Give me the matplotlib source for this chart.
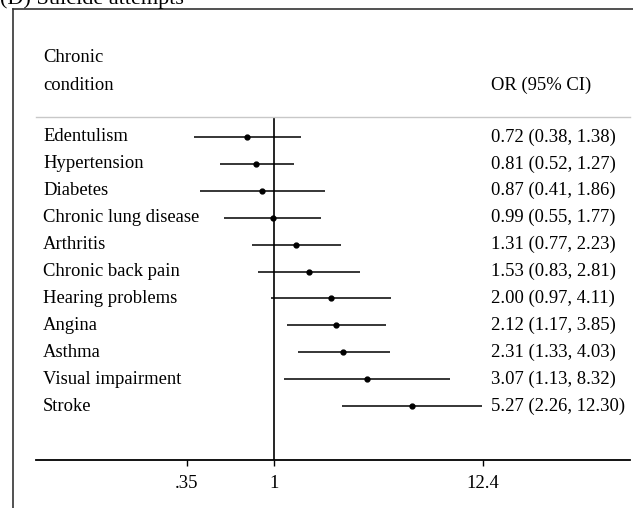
import matplotlib
matplotlib.use("Agg")
import matplotlib.pyplot as plt
from matplotlib.lines import Line2D
from matplotlib.transforms import blended_transform_factory

conditions = ["Edentulism", "Hypertension", "Diabetes", "Chronic lung disease",
              "Arthritis", "Chronic back pain", "Hearing problems", "Angina",
              "Asthma", "Visual impairment", "Stroke"]
odds = [0.72, 0.81, 0.87, 0.99, 1.31, 1.53, 2.00, 2.12, 2.31, 3.07, 5.27]
ci_low = [0.38, 0.52, 0.41, 0.55, 0.77, 0.83, 0.97, 1.17, 1.33, 1.13, 2.26]
ci_high = [1.38, 1.27, 1.86, 1.77, 2.23, 2.81, 4.11, 3.85, 4.03, 8.32, 12.30]
tick_vals = [0.35, 1, 12.4]
tick_labels = [".35", "1", "12.4"]

W, H = 633, 508
plt.rcParams["font.family"] = ["Liberation Serif", "DejaVu Serif"]
FS = 13.4

fig = plt.figure(figsize=(W / 100, H / 100), dpi=100)
fig.patch.set_facecolor("white")

# axes: left 36px .. right 630px, top 117px .. bottom 460px
ax = fig.add_axes([36 / W, (H - 460) / H, (630 - 36) / W, (460 - 117) / H])
ax.set_xscale("log")
ax.set_xlim(0.0569, 72.9)
ax.set_ylim(12.0, -0.743)
ax.minorticks_off()
ax.set_xticks(tick_vals)
ax.set_xticklabels(tick_labels, fontsize=FS)
ax.tick_params(axis="x", direction="out", length=4, width=1, pad=7, color="black")
ax.set_yticks([])
for s in ("left", "right"):
    ax.spines[s].set_visible(False)
ax.spines["bottom"].set_linewidth(1.3)
ax.spines["top"].set_color("#c8c8c8")
ax.spines["top"].set_linewidth(1.0)
ax.patch.set_alpha(0)

ax.axvline(1, color="black", lw=1.2, zorder=2)

rows = list(range(len(conditions)))
ax.hlines(rows, ci_low, ci_high, color="black", lw=1.1, zorder=3)
ax.plot(odds, rows, "o", color="black", ms=3.5, zorder=4)

trans = blended_transform_factory(fig.transFigure, ax.transData)
for i, name in enumerate(conditions):
    ax.text(43 / W, i, name, transform=trans, ha="left", va="center",
            fontsize=FS, clip_on=False)
    ax.text(491 / W, i, f"{odds[i]:.2f} ({ci_low[i]:.2f}, {ci_high[i]:.2f})",
            transform=trans, ha="left", va="center", fontsize=FS, clip_on=False)

ax.text(43 / W, -2.94, "Chronic", transform=trans, ha="left", va="center",
        fontsize=FS, clip_on=False)
ax.text(43 / W, -1.93, "condition", transform=trans, ha="left", va="center",
        fontsize=FS, clip_on=False)
ax.text(491 / W, -1.93, "OR (95% CI)", transform=trans, ha="left", va="center",
        fontsize=FS, clip_on=False)

# outer frame (partly cut off) and panel title
fig.add_artist(Line2D([13 / W, 13 / W], [0, 1 - 9 / H], transform=fig.transFigure,
                      color="#333333", lw=1.2))
fig.add_artist(Line2D([13 / W, 1], [1 - 9 / H, 1 - 9 / H], transform=fig.transFigure,
                      color="#333333", lw=1.2))
fig.text(0, 1 - 4 / H, "(D) Suicide attempts", ha="left", va="baseline", fontsize=16)

fig.savefig("out.png", dpi=100)
